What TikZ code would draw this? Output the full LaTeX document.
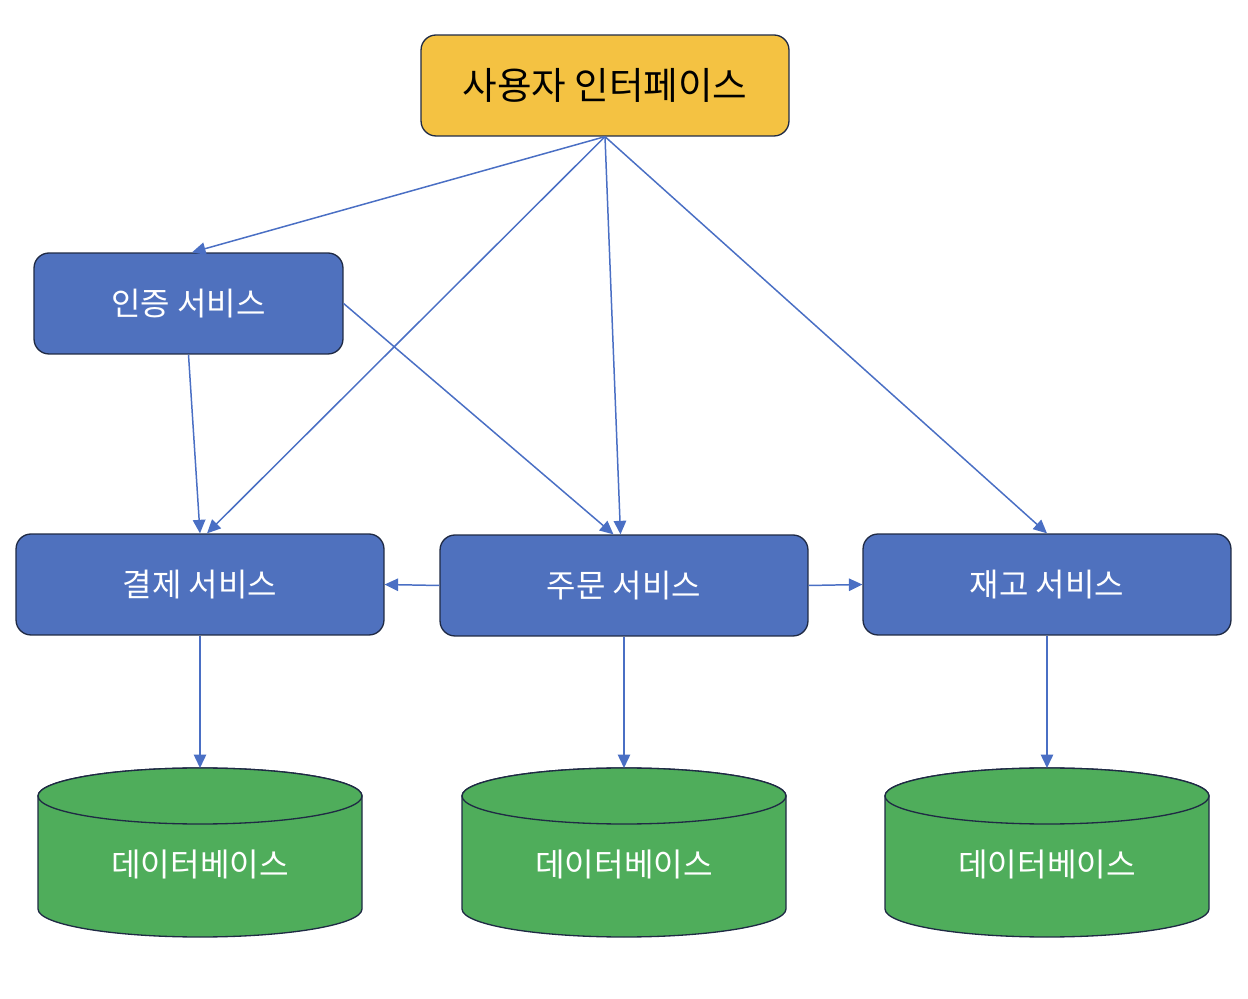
\documentclass[tikz,border=0pt]{standalone}
\usepackage{fontspec}
\setmainfont{Noto Sans CJK KR}
\usetikzlibrary{arrows.meta}
\definecolor{uiyellow}{HTML}{F4C242}
\definecolor{svcblue}{HTML}{4F71BE}
\definecolor{dbgreen}{HTML}{4FAD5B}
\definecolor{edgenavy}{HTML}{1F2A44}
\definecolor{arrowblue}{HTML}{4A6FC4}
\begin{document}
\begin{tikzpicture}[x=0.02cm,y=0.02cm,
  box/.style={draw=edgenavy,line width=0.75pt,rounded corners=0.3cm,minimum height=2.02cm,align=center,inner sep=0pt},
  uibox/.style={box,fill=uiyellow,minimum width=7.36cm,font=\fontsize{21.4}{25}\selectfont,text=black},
  svcbox/.style={box,fill=svcblue,minimum width=7.36cm,font=\fontsize{18.2}{22}\selectfont,text=white},
  dbshape/.style={draw=edgenavy,line width=0.75pt,fill=dbgreen},
  dblabel/.style={font=\fontsize{18.3}{22}\selectfont,text=white,inner sep=0pt},
  conn/.style={draw=arrowblue,line width=0.85pt,-{Triangle[length=0.27cm,width=0.25cm]}}
]
\useasboundingbox (0,0) rectangle (1248,998);

\node[uibox] (ui) at (605,912.5) {사용자 인터페이스};
\node[svcbox,minimum width=6.18cm] (auth) at (188.5,694.5) {인증 서비스};
\node[svcbox] (pay) at (200,413.5) {결제 서비스};
\node[svcbox] (order) at (624,412.5) {주문 서비스};
\node[svcbox] (stock) at (1047,413.5) {재고 서비스};

% databases
\foreach \cx in {200,624,1047}{
  \path[dbshape] (\cx-162,202) -- (\cx-162,89) arc[start angle=180,end angle=360,x radius=162,y radius=28] -- (\cx+162,202) arc[start angle=0,end angle=180,x radius=162,y radius=28] -- cycle;
  \draw[dbshape] (\cx,202) ellipse[x radius=162,y radius=28];
}
\node[dblabel] (dbpay) at (200,134) {데이터베이스};
\node[dblabel] (dborder) at (624,134) {데이터베이스};
\node[dblabel] (dbstock) at (1047,134) {데이터베이스};
\coordinate (dbpaytop) at (200,230);
\coordinate (dbordertop) at (624,230);
\coordinate (dbstocktop) at (1047,230);

\draw[conn] (ui.south) -- ([xshift=2]auth.north);
\draw[conn] (ui.south) -- ([xshift=4]pay.north);
\draw[conn] (ui.south) -- ([xshift=-2]order.north);
\draw[conn] (ui.south) -- (stock.north);
\draw[conn] (auth.south) -- (pay.north);
\draw[conn] (auth.east) -- ([xshift=-6]order.north);
\draw[conn] (order.west) -- (pay.east);
\draw[conn] (order.east) -- (stock.west);
\draw[conn] (pay.south) -- (dbpaytop);
\draw[conn] (order.south) -- (dbordertop);
\draw[conn] (stock.south) -- (dbstocktop);
\end{tikzpicture}
\end{document}
